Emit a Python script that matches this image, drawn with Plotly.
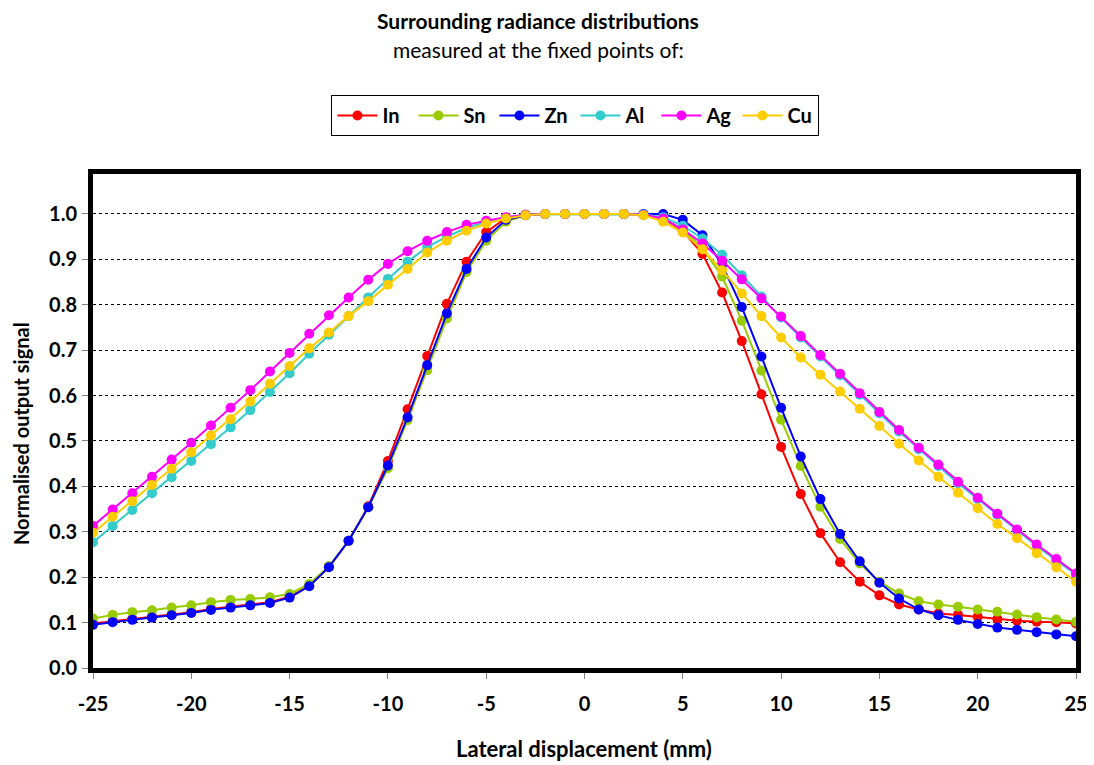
import plotly.graph_objects as go

x_mm = list(range(-25, 26))

in_vals = [0.098, 0.103, 0.108, 0.113, 0.118, 0.123, 0.130, 0.135, 0.140, 0.145,
           0.157, 0.181, 0.223, 0.280, 0.356, 0.456, 0.570, 0.687, 0.802, 0.895,
           0.960, 0.991, 0.998, 1.0, 1.0, 1.0, 1.0, 1.0, 0.998, 0.990,
           0.962, 0.912, 0.827, 0.720, 0.603, 0.487, 0.383, 0.297, 0.233, 0.190,
           0.160, 0.140, 0.129, 0.120, 0.117, 0.113, 0.108, 0.104, 0.102, 0.101, 0.098]

sn_vals = [0.109, 0.117, 0.123, 0.127, 0.133, 0.138, 0.145, 0.150, 0.152, 0.156,
           0.163, 0.185, 0.224, 0.280, 0.354, 0.440, 0.546, 0.656, 0.770, 0.872,
           0.941, 0.983, 0.997, 1.0, 1.0, 1.0, 1.0, 1.0, 0.999, 0.990,
           0.965, 0.925, 0.862, 0.765, 0.655, 0.547, 0.445, 0.355, 0.284, 0.230,
           0.190, 0.164, 0.147, 0.140, 0.135, 0.129, 0.124, 0.118, 0.112, 0.107, 0.102]

zn_vals = [0.095, 0.101, 0.106, 0.111, 0.116, 0.121, 0.128, 0.133, 0.138, 0.143,
           0.155, 0.180, 0.222, 0.280, 0.354, 0.446, 0.552, 0.667, 0.781, 0.879,
           0.948, 0.987, 0.997, 1.0, 1.0, 1.0, 1.0, 1.0, 1.0, 1.0,
           0.987, 0.953, 0.888, 0.795, 0.686, 0.573, 0.466, 0.372, 0.295, 0.235,
           0.188, 0.153, 0.129, 0.116, 0.106, 0.097, 0.089, 0.084, 0.079, 0.074, 0.070]

al_vals = [0.277, 0.313, 0.348, 0.385, 0.420, 0.456, 0.493, 0.530, 0.568, 0.608,
           0.649, 0.692, 0.734, 0.775, 0.816, 0.857, 0.895, 0.927, 0.950, 0.969,
           0.983, 0.992, 0.998, 1.0, 1.0, 1.0, 1.0, 1.0, 0.999, 0.993,
           0.974, 0.946, 0.910, 0.865, 0.818, 0.772, 0.728, 0.686, 0.645, 0.602,
           0.561, 0.521, 0.482, 0.445, 0.407, 0.372, 0.337, 0.302, 0.269, 0.237, 0.206]

ag_vals = [0.313, 0.349, 0.385, 0.421, 0.459, 0.496, 0.534, 0.573, 0.612, 0.653,
           0.694, 0.736, 0.777, 0.816, 0.855, 0.890, 0.918, 0.941, 0.960, 0.976,
           0.985, 0.993, 0.998, 1.0, 1.0, 1.0, 1.0, 1.0, 0.998, 0.990,
           0.966, 0.935, 0.897, 0.856, 0.814, 0.774, 0.731, 0.689, 0.648, 0.605,
           0.564, 0.524, 0.485, 0.448, 0.410, 0.375, 0.340, 0.305, 0.272, 0.240, 0.208]

cu_vals = [0.298, 0.333, 0.367, 0.403, 0.439, 0.475, 0.512, 0.548, 0.587, 0.626,
           0.665, 0.704, 0.739, 0.775, 0.808, 0.844, 0.879, 0.915, 0.941, 0.963,
           0.979, 0.990, 0.997, 1.0, 1.0, 1.0, 1.0, 1.0, 0.997, 0.983,
           0.959, 0.922, 0.876, 0.825, 0.775, 0.728, 0.684, 0.646, 0.609, 0.571,
           0.533, 0.494, 0.457, 0.421, 0.386, 0.352, 0.317, 0.286, 0.253, 0.222, 0.190]

series_names = ["In", "Sn", "Zn", "Al", "Ag", "Cu"]
series_vals = [in_vals, sn_vals, zn_vals, al_vals, ag_vals, cu_vals]
series_colors = ["#FF0000", "#99CC00", "#0000FF", "#33CCCC", "#FF00FF", "#FFCC00"]

x_tick_vals = [-25, -20, -15, -10, -5, 0, 5, 10, 15, 20, 25]
x_tick_text = ["-25", "-20", "-15", "-10", "-5", "0", "5", "10", "15", "20", "25"]
y_tick_vals = [0.0, 0.1, 0.2, 0.3, 0.4, 0.5, 0.6, 0.7, 0.8, 0.9, 1.0]
y_tick_text = ["0.0", "0.1", "0.2", "0.3", "0.4", "0.5", "0.6", "0.7", "0.8", "0.9", "1.0"]

FONT = "Lato, 'Open Sans', sans-serif"

fig = go.Figure()
for name, vals, col in zip(series_names, series_vals, series_colors):
    fig.add_trace(go.Scatter(
        x=x_mm, y=vals, name=name, mode="lines+markers",
        line=dict(color=col, width=2),
        marker=dict(color=col, size=10),
    ))

fig.update_layout(
    width=1086, height=757, autosize=False,
    margin=dict(l=85, r=18, t=166, b=97, autoexpand=False),
    paper_bgcolor="white", plot_bgcolor="white",
    font=dict(family=FONT, color="black"),
    showlegend=True,
    legend=dict(
        orientation="h", x=0.4908, xanchor="center", y=1.160, yanchor="top",
        bordercolor="black", borderwidth=1,
        font=dict(size=20, family=FONT, weight="bold"),
        itemwidth=40, entrywidth=26, entrywidthmode="pixels",
        tracegroupgap=0,
    ),
    annotations=[
        dict(text="<b>Surrounding radiance distributions</b>", xref="paper", yref="paper",
             x=0.4527, y=1.311, xanchor="center", yanchor="middle", showarrow=False,
             font=dict(size=21, family=FONT)),
        dict(text="measured at the fixed points of:", xref="paper", yref="paper",
             x=0.4527, y=1.253, xanchor="center", yanchor="middle", showarrow=False,
             font=dict(size=21, family=FONT)),
        dict(text="<b>Lateral displacement (mm)</b>", xref="paper", yref="paper",
             x=0.4995, y=-0.162, xanchor="center", yanchor="middle", showarrow=False,
             font=dict(size=22, family=FONT)),
        dict(text="<b>Normalised output signal</b>", xref="paper", yref="paper",
             x=-0.0732, y=0.4737, xanchor="center", yanchor="middle", showarrow=False,
             textangle=-90, font=dict(size=20, family=FONT)),
    ],
)

fig.update_xaxes(
    range=[-25, 25], tickvals=x_tick_vals, ticktext=x_tick_text,
    automargin=False,
    showline=True, linewidth=5, linecolor="black", mirror=True,
    showgrid=False, zeroline=False,
    ticks="outside", ticklen=6, tickcolor="#808080", tickwidth=1,
    tickfont=dict(size=20, family=FONT, weight="bold"),
    ticklabelstandoff=8,
)
fig.update_yaxes(
    range=[0, 1.088], tickvals=y_tick_vals, ticktext=y_tick_text,
    automargin=False,
    showline=True, linewidth=5, linecolor="black", mirror=True,
    showgrid=True, gridcolor="black", gridwidth=1, griddash="dot",
    zeroline=False,
    ticks="outside", ticklen=6, tickcolor="#808080", tickwidth=1,
    tickfont=dict(size=20, family=FONT, weight="bold"),
    ticklabelstandoff=1,
)

fig.write_html("out.html")
